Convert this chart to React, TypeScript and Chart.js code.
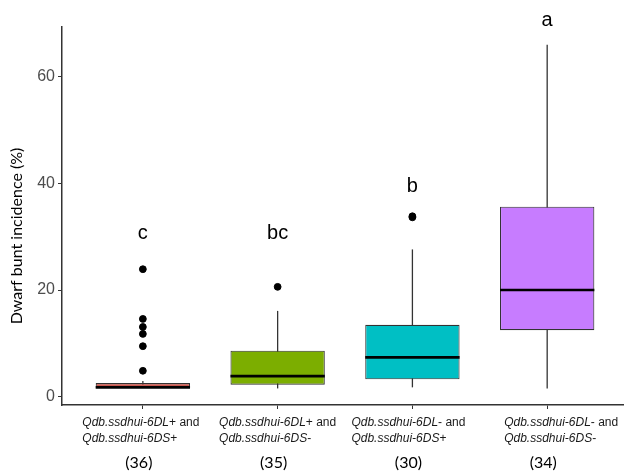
import React, { useEffect, useRef } from "react";
import { Chart, registerables } from "chart.js";

Chart.register(...registerables);

// ---------- data ----------
const categoryItalic1 = ["Qdb.ssdhui-6DL", "Qdb.ssdhui-6DL", "Qdb.ssdhui-6DL", "Qdb.ssdhui-6DL"];
const categorySign1 = ["+ and", "+ and", "- and", "- and"];
const categoryItalic2 = ["Qdb.ssdhui-6DS", "Qdb.ssdhui-6DS", "Qdb.ssdhui-6DS", "Qdb.ssdhui-6DS"];
const categorySign2 = ["+", "-", "+", "-"];
const counts = ["(36)", "(35)", "(30)", "(34)"];

const whiskerLow = [1.7, 1.6, 1.8, 1.6];
const q1 = [1.7, 2.3, 3.3, 12.5];
const median = [1.8, 3.9, 7.4, 20.0];
const q3 = [2.6, 8.65, 13.5, 35.6];
const whiskerHigh = [3.0, 16.1, 27.6, 65.9];
const outliers = [[23.9, 14.6, 13.1, 11.8, 9.5, 4.9], [20.6], [33.6, 33.8], []];

const letters = ["c", "bc", "b", "a"];
const letterY = [30.5, 30.5, 39.3, 70.5];

const yTicks = [0, 20, 40, 60];
const yTitle = "Dwarf bunt incidence (%)";

const fills = ["#C9574E", "#7CAE00", "#00BFC4", "#C77CFF"];

// ---------- layout ----------
const W = 624;
const H = 471;
const labelShift = [-2, 0, -4, 14];

const boxPlugin = {
  id: "boxExtras",
  beforeDatasetsDraw(chart: any) {
    const x = chart.scales.x;
    const y = chart.scales.y;
    const ctx = chart.ctx;
    ctx.save();
    ctx.strokeStyle = "#333333";
    ctx.lineWidth = 1.3;
    for (let i = 0; i < q1.length; i++) {
      const cx = x.getPixelForValue(i + 1);
      ctx.beginPath();
      ctx.moveTo(cx, y.getPixelForValue(whiskerLow[i]));
      ctx.lineTo(cx, y.getPixelForValue(whiskerHigh[i]));
      ctx.stroke();
    }
    ctx.restore();
  },
  afterDatasetsDraw(chart: any) {
    const y = chart.scales.y;
    const ctx = chart.ctx;
    const meta = chart.getDatasetMeta(1);
    ctx.save();
    ctx.strokeStyle = "#000000";
    ctx.lineWidth = 2.6;
    for (let i = 0; i < median.length; i++) {
      const el = meta.data[i];
      const p = el.getProps(["x", "width"], true);
      const py = y.getPixelForValue(median[i]);
      ctx.beginPath();
      ctx.moveTo(p.x - p.width / 2, py);
      ctx.lineTo(p.x + p.width / 2, py);
      ctx.stroke();
    }
    ctx.restore();
  },
  afterDraw(chart: any) {
    const x = chart.scales.x;
    const y = chart.scales.y;
    const ctx = chart.ctx;
    ctx.save();
    // significance letters
    ctx.fillStyle = "#000000";
    ctx.font = "20px 'Liberation Sans', Arial, sans-serif";
    ctx.textAlign = "center";
    ctx.textBaseline = "middle";
    for (let i = 0; i < letters.length; i++) {
      ctx.fillText(letters[i], x.getPixelForValue(i + 1), y.getPixelForValue(letterY[i]));
    }
    // category labels
    const italic = "italic 12px 'Liberation Sans', Arial, sans-serif";
    const normal = "12px 'Liberation Sans', Arial, sans-serif";
    ctx.textAlign = "left";
    ctx.textBaseline = "alphabetic";
    ctx.fillStyle = "#1a1a1a";
    const base1 = chart.chartArea.bottom + 21;
    const base2 = base1 + 16;
    for (let i = 0; i < categoryItalic1.length; i++) {
      const cx = x.getPixelForValue(i + 1);
      ctx.font = italic;
      const a1 = ctx.measureText(categoryItalic1[i]).width;
      const a2 = ctx.measureText(categoryItalic2[i]).width;
      ctx.font = normal;
      const b1 = ctx.measureText(categorySign1[i]).width;
      const b2 = ctx.measureText(categorySign2[i]).width;
      const bw = Math.max(a1 + b1, a2 + b2);
      let left = cx - bw / 2 + labelShift[i];
      if (left + bw > W - 2) left = W - 2 - bw;
      ctx.font = italic;
      ctx.fillText(categoryItalic1[i], left, base1);
      ctx.fillText(categoryItalic2[i], left, base2);
      ctx.font = normal;
      ctx.fillText(categorySign1[i], left + a1, base1);
      ctx.fillText(categorySign2[i], left + a2, base2);
    }
    // counts
    ctx.font = "16px Lato, 'Open Sans', sans-serif";
    ctx.textAlign = "center";
    ctx.fillStyle = "#000000";
    for (let i = 0; i < counts.length; i++) {
      ctx.fillText(counts[i], x.getPixelForValue(i + 1) - 4, chart.chartArea.bottom + 63);
    }
    // y title
    ctx.translate(17, 236);
    ctx.rotate(-Math.PI / 2);
    ctx.font = "16px Lato, 'Open Sans', sans-serif";
    ctx.textBaseline = "middle";
    ctx.fillText(yTitle, 0, 0);
    ctx.restore();
  },
};

export default function App() {
  const ref = useRef<HTMLCanvasElement | null>(null);
  useEffect(() => {
    if (!ref.current) return;
    const boxData = q1.map((v, i) => ({ x: i + 1, y: [v, q3[i]] }));
    const outlierData: { x: number; y: number }[] = [];
    outliers.forEach((arr, i) => arr.forEach((v) => outlierData.push({ x: i + 1, y: v })));
    const chart = new Chart(ref.current, {
      type: "bar",
      data: {
        datasets: [
          {
            type: "scatter",
            data: outlierData,
            backgroundColor: "#000000",
            borderColor: "#000000",
            pointRadius: 3.4,
            pointHoverRadius: 3.4,
          } as any,
          {
            type: "bar",
            data: boxData as any,
            backgroundColor: fills,
            borderColor: "#333333",
            borderWidth: 1.1,
            borderSkipped: false,
            barPercentage: 0.7,
            categoryPercentage: 1,
          } as any,
        ],
      },
      options: {
        animation: false,
        responsive: false,
        layout: { autoPadding: false, padding: { top: 27, left: 0, right: 0, bottom: 0 } },
        plugins: { legend: { display: false }, tooltip: { enabled: false } },
        scales: {
          x: {
            type: "linear",
            offset: false,
            min: 0.4,
            max: 4.57,
            afterBuildTicks: (s: any) => {
              s.ticks = [1, 2, 3, 4].map((v) => ({ value: v }));
            },
            afterFit: (s: any) => {
              s.height = 66;
              s.paddingLeft = 0;
              s.paddingRight = 0;
            },
            ticks: { display: false },
            grid: { offset: false, drawOnChartArea: false, drawTicks: true, tickLength: 4, color: "#333333", lineWidth: 1 },
            border: { display: true, color: "#333333", width: 1.5 },
          },
          y: {
            type: "linear",
            min: -1.5,
            max: 69.2,
            afterBuildTicks: (s: any) => {
              s.ticks = yTicks.map((v) => ({ value: v }));
            },
            afterFit: (s: any) => {
              s.width = 62;
            },
            ticks: {
              color: "#4d4d4d",
              padding: 3,
              font: { family: "'Liberation Sans', Arial, sans-serif", size: 16 },
            },
            grid: { drawOnChartArea: false, drawTicks: true, tickLength: 4, color: "#333333", lineWidth: 1 },
            border: { display: true, color: "#333333", width: 1.5 },
          },
        },
      },
      plugins: [boxPlugin],
    });
    return () => chart.destroy();
  }, []);
  return (
    <div style={{ position: "fixed", left: 0, top: 0, width: W, height: H, background: "#fff" }}>
      <canvas ref={ref} width={W} height={H} style={{ width: W, height: H, display: "block" }} />
    </div>
  );
}
